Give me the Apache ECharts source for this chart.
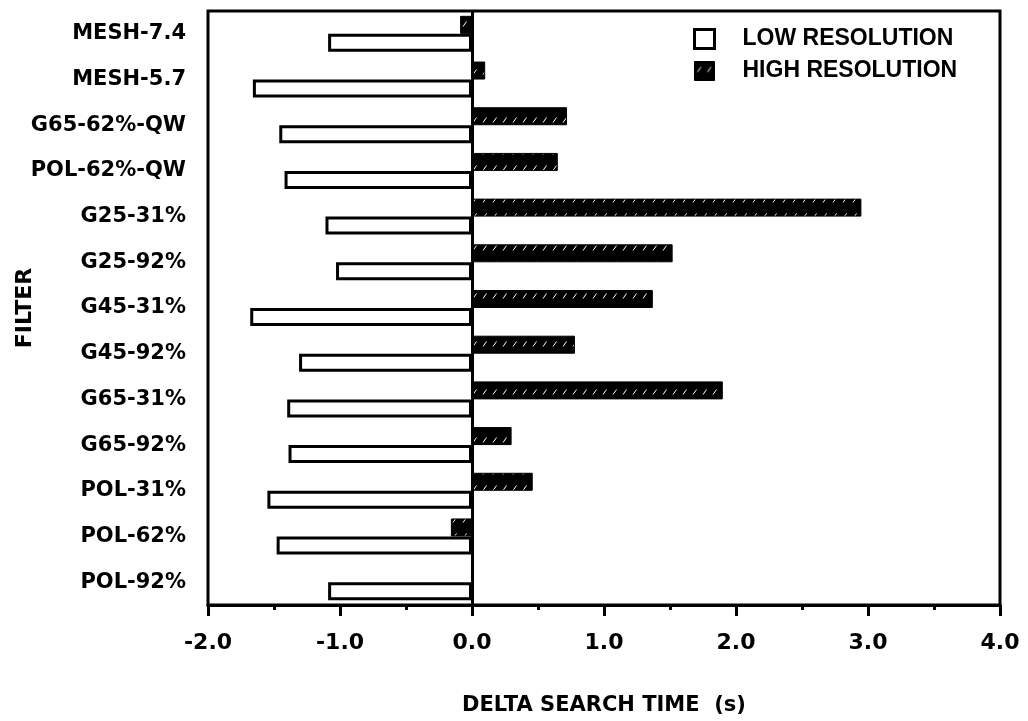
<!DOCTYPE html>
<html>
<head>
<meta charset="utf-8">
<script src="https://cdn.jsdelivr.net/npm/echarts@6/dist/echarts.min.js"></script>
<style>html,body{margin:0;padding:0;background:#fff}#c{width:1028px;height:721px}</style>
</head>
<body>
<div id="c"></div>
<script>
// ---- data ----
const categories = ['MESH-7.4','MESH-5.7','G65-62%-QW','POL-62%-QW','G25-31%','G25-92%','G45-31%','G45-92%','G65-31%','G65-92%','POL-31%','POL-62%','POL-92%'];
const lowResolution  = [-1.09,-1.66,-1.46,-1.42,-1.11,-1.03,-1.68,-1.31,-1.40,-1.39,-1.55,-1.48,-1.09];
const highResolution = [-0.09, 0.10, 0.72, 0.65, 2.95, 1.52, 1.37, 0.78, 1.90, 0.30, 0.46,-0.16, 0];
const xTicks = [-2.0,-1.0,0.0,1.0,2.0,3.0,4.0];
const seriesNames = ['LOW RESOLUTION','HIGH RESOLUTION'];

// hatch pattern (black with sparse white diagonal dashes)
function hatch(){
  const c = document.createElement('canvas');
  c.width = 10; c.height = 16;
  const g = c.getContext('2d');
  g.fillStyle = '#000'; g.fillRect(0,0,10,16);
  g.strokeStyle = '#fff'; g.lineWidth = 1;
  g.beginPath(); g.moveTo(3,10.5); g.lineTo(6.5,5.5); g.stroke();
  return c;
}
const hatchPattern = {image: hatch(), repeat: 'repeat'};

const axisFont = 'DejaVu Sans';
const chart = echarts.init(document.getElementById('c'), null, {renderer:'canvas'});
chart.setOption({
  animation: false,
  backgroundColor: '#fff',
  grid: {left: 208, right: 28, top: 11, bottom: 116, show: true, borderColor: '#000', borderWidth: 3,
         backgroundColor: 'transparent', containLabel: false, outerBoundsMode: 'none'},
  legend: {
    orient: 'vertical', left: 693, top: 27.5, padding: 0,
    itemWidth: 20, itemHeight: 19, itemGap: 9,
    textStyle: {fontFamily: 'Liberation Sans', fontWeight: 'bold', fontSize: 23, color: '#000', padding: [0,0,0,23]},
    data: [
      {name: seriesNames[0], icon: 'rect', itemStyle: {color: '#fff', borderColor: '#000', borderWidth: 3}},
      {name: seriesNames[1], icon: 'rect', itemStyle: {color: hatchPattern, borderColor: '#000', borderWidth: 1}}
    ]
  },
  xAxis: {
    type: 'value', min: xTicks[0], max: xTicks[xTicks.length-1], interval: 1,
    name: 'DELTA SEARCH TIME  (s)', nameLocation: 'middle', nameGap: 90, nameMoveOverlap: false,
    nameTextStyle: {fontFamily: axisFont, fontWeight: 'bold', fontSize: 21, color: '#000'},
    axisLine: {show: true, lineStyle: {color: '#000', width: 3}},
    axisTick: {show: true, inside: false, length: 11, lineStyle: {color: '#000', width: 3}},
    minorTick: {show: true, splitNumber: 2, length: 5, lineStyle: {color: '#000', width: 3}},
    splitLine: {show: false},
    axisLabel: {margin: 27, fontFamily: axisFont, fontWeight: 'bold', fontSize: 22, color: '#000',
      formatter: v => v.toFixed(1)}
  },
  yAxis: {
    type: 'category', inverse: true, data: categories,
    name: 'FILTER', nameLocation: 'middle', nameRotate: 90, nameGap: 172, nameMoveOverlap: false,
    nameTextStyle: {fontFamily: axisFont, fontWeight: 'bold', fontSize: 22, color: '#000'},
    axisLine: {show: false, onZero: false},
    axisTick: {show: false},
    splitLine: {show: false},
    axisLabel: {margin: 22, fontFamily: axisFont, fontWeight: 'bold', fontSize: 21, color: '#000'}
  },
  series: [
    {
      name: seriesNames[1], type: 'bar', data: highResolution,
      barWidth: 18, barGap: '0%',
      itemStyle: {color: hatchPattern, borderColor: '#000', borderWidth: 1},
      markLine: {silent: true, symbol: 'none', label: {show: false},
        lineStyle: {color: '#000', width: 3, type: 'solid'}, data: [{xAxis: 0}]}
    },
    {
      name: seriesNames[0], type: 'bar', data: lowResolution,
      barWidth: 18, barGap: '0%',
      itemStyle: {color: '#fff', borderColor: '#000', borderWidth: 3}
    }
  ]
});
</script>
</body>
</html>
